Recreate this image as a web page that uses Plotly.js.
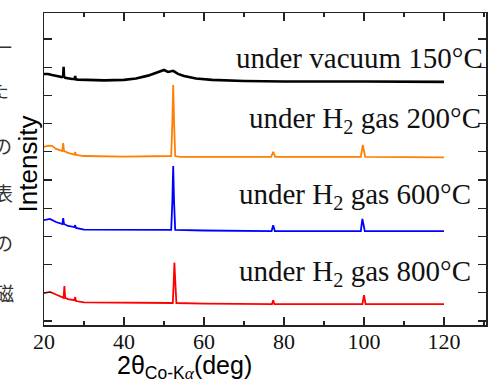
<!DOCTYPE html>
<html>
<head>
<meta charset="utf-8">
<script src="https://cdn.plot.ly/plotly-3.0.1.min.js"></script>
<style>html,body{margin:0;padding:0;background:#fff;}#chart{width:490px;height:382px;}</style>
</head>
<body>
<div id="chart"></div>
<script>
// 2θ (deg) and intensity (arbitrary, offset)
const vacuumX = [20, 21, 22, 23, 24.5, 24.8, 24.9, 25.0, 25.3, 27, 27.7, 27.8, 27.9, 28.5, 30, 35, 40, 43, 46, 48, 50, 51, 52.3, 53.5, 55, 58, 62, 70, 80, 100, 120];
const vacuumY = [8.76, 8.76, 8.72, 8.69, 8.65, 8.68, 9.01, 8.68, 8.62, 8.58, 8.58, 8.69, 8.57, 8.56, 8.55, 8.53, 8.55, 8.60, 8.70, 8.79, 8.90, 8.83, 8.87, 8.76, 8.69, 8.60, 8.55, 8.51, 8.49, 8.49, 8.48];

const h200X = [20, 21, 22, 23, 24.6, 24.8, 25.0, 26, 27.6, 27.8, 28.0, 30, 40, 50, 51.8, 52.1, 52.3, 52.5, 52.8, 54, 60, 76.8, 77.3, 77.8, 99.2, 99.7, 100.3, 120];
const h200Y = [6.17, 6.22, 6.21, 6.10, 6.03, 6.31, 6.03, 5.96, 5.90, 5.99, 5.89, 5.85, 5.83, 5.83, 5.85, 7.13, 8.37, 7.13, 5.85, 5.82, 5.82, 5.82, 6.00, 5.82, 5.82, 6.24, 5.82, 5.80];

const h600X = [20, 21.5, 23, 24.6, 24.8, 25.0, 26, 27.6, 27.8, 28, 30, 40, 51.8, 52.1, 52.3, 52.5, 52.8, 60, 76.9, 77.3, 77.7, 99.2, 99.6, 100.2, 120];
const h600Y = [3.58, 3.62, 3.51, 3.44, 3.65, 3.44, 3.37, 3.33, 3.40, 3.30, 3.24, 3.23, 3.23, 4.29, 5.50, 4.29, 3.23, 3.21, 3.19, 3.40, 3.19, 3.19, 3.62, 3.19, 3.19];

const h800X = [20, 21.5, 23, 24.9, 25.1, 25.3, 26, 27.6, 27.8, 28, 30, 40, 52.2, 52.45, 52.6, 52.8, 53.1, 60, 77.0, 77.3, 77.6, 99.6, 100, 100.4, 120];
const h800Y = [0.99, 1.03, 0.94, 0.82, 1.24, 0.82, 0.78, 0.74, 0.85, 0.71, 0.66, 0.64, 0.64, 1.45, 2.07, 1.45, 0.64, 0.62, 0.60, 0.74, 0.60, 0.60, 0.92, 0.60, 0.60];

const seriesLabels = ["under vacuum 150°C", "under H<sub>2</sub> gas 200°C", "under H<sub>2</sub> gas 600°C", "under H<sub>2</sub> gas 800°C"];
const seriesColors = ["#000000", "#ff8000", "#0000ff", "#ff0000"];
const xTickVals = [20, 40, 60, 80, 100, 120];
const sideChars = ["一", "た", "，", "の", "表", "の", "磁"];

const xs = [vacuumX, h200X, h600X, h800X];
const ys = [vacuumY, h200Y, h600Y, h800Y];
const widths = [2.6, 1.8, 1.8, 1.8];

const traces = xs.map((x, i) => ({
  x: x, y: ys[i], type: 'scatter', mode: 'lines',
  line: {color: seriesColors[i], width: widths[i]},
  hoverinfo: 'skip', showlegend: false
}));

const labelPos = [[130.25, 9.33], [129.75, 7.13], [127.25, 4.45], [127.25, 1.72]];
const annotations = seriesLabels.map((t, i) => ({
  text: t, xref: 'x', yref: 'y', x: labelPos[i][0], y: labelPos[i][1],
  xanchor: 'right', yanchor: 'middle', showarrow: false,
  font: {family: 'Liberation Serif', size: 29, color: '#111'}
}));

annotations.push({
  text: '2θ<sub>Co-K<span style="font-family:Liberation Serif;font-style:italic">α</span></sub>(deg)',
  xref: 'paper', yref: 'paper', x: 0.317, y: -0.136, xanchor: 'center', yanchor: 'middle',
  showarrow: false, font: {family: 'Liberation Sans', size: 25, color: '#000'}
});
annotations.push({
  text: 'Intensity', xref: 'paper', yref: 'paper', x: -0.036, y: 0.515, textangle: -90,
  xanchor: 'center', yanchor: 'middle', showarrow: false,
  font: {family: 'Liberation Sans', size: 26, color: '#000'}
});

// clipped Japanese characters at the left edge (pixel positions converted to paper)
const sidePx = [[14, 47], [11, 89], [14, 107], [14, 145], [15, 192], [15, 242], [16, 292]];
sideChars.forEach((c, i) => {
  annotations.push({
    text: c, xref: 'paper', yref: 'paper',
    x: (sidePx[i][0] - 44) / 442, y: (325 - sidePx[i][1]) / 312,
    xanchor: 'right', yanchor: 'middle', showarrow: false,
    font: {family: 'Noto Sans CJK JP', size: 19, color: '#333'}
  });
});

const layout = {
  width: 490, height: 382,
  margin: {l: 44, r: 4, t: 13, b: 57, pad: 0},
  paper_bgcolor: '#fff', plot_bgcolor: '#fff',
  showlegend: false,
  xaxis: {
    range: [20, 130.5], tickvals: xTickVals, ticktext: xTickVals.map(String),
    ticks: 'inside', ticklen: 8, tickwidth: 1.3, tickcolor: '#222',
    ticklabelstandoff: -4,
    minor: {dtick: 10, tick0: 20, ticks: 'inside', ticklen: 4, tickwidth: 1.3, tickcolor: '#222'},
    showline: true, linecolor: '#222', linewidth: 1.5, mirror: 'ticks',
    showgrid: false, zeroline: false,
    tickfont: {family: 'Liberation Serif', size: 22, color: '#111'}
  },
  yaxis: {
    range: [-0.14, 10.92], dtick: 1, tick0: 0,
    ticks: 'inside', ticklen: 8, tickwidth: 1.3, tickcolor: '#222',
    showticklabels: false,
    showline: true, linecolor: '#222', linewidth: 1.5, mirror: 'ticks',
    showgrid: false, zeroline: false
  },
  annotations: annotations
};

Plotly.newPlot('chart', traces, layout, {staticPlot: true, displayModeBar: false});
</script>
</body>
</html>
